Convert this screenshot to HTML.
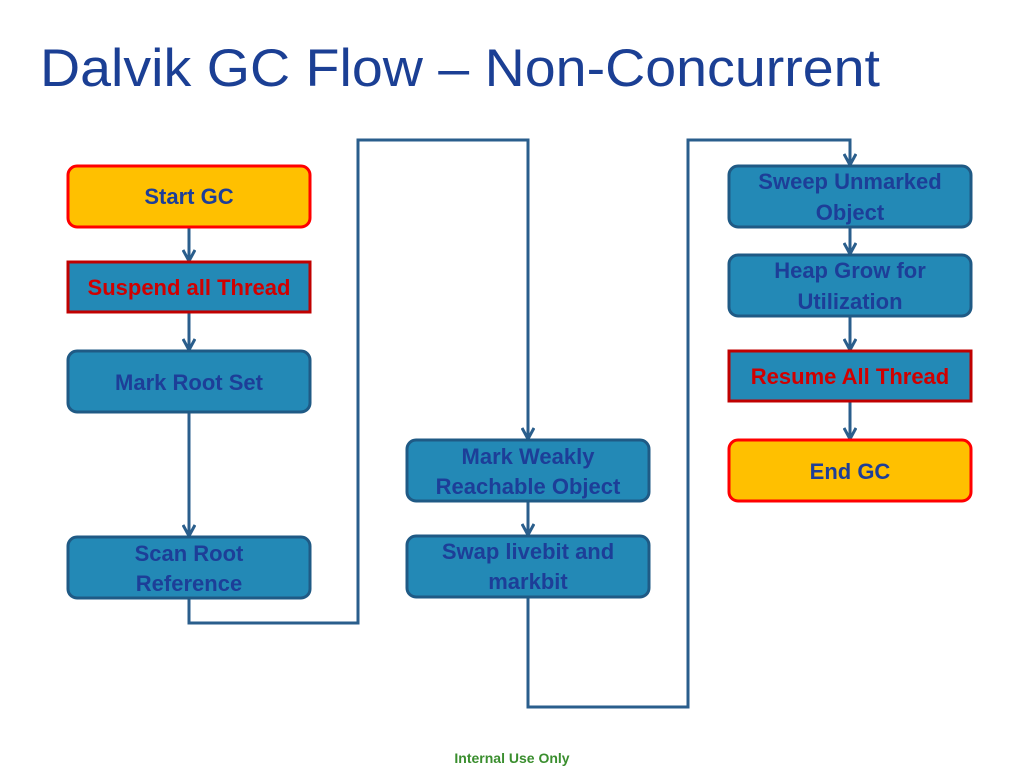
<!DOCTYPE html>
<html><head><meta charset="utf-8"><style>
html,body{margin:0;padding:0;background:#fff;}
svg{display:block}
text{font-family:"Liberation Sans",sans-serif;}
</style></head><body>
<svg width="1024" height="768" viewBox="0 0 1024 768" xmlns="http://www.w3.org/2000/svg">
<defs>
<marker id="a" viewBox="0 0 14 14" refX="12" refY="7" markerWidth="14" markerHeight="14" markerUnits="userSpaceOnUse" orient="auto">
<path d="M1,1 L12,7 L1,13" fill="none" stroke="#2A5E8C" stroke-width="3"/>
</marker>
</defs>
<text x="40" y="86" font-size="53" fill="#1B3F94" textLength="840" lengthAdjust="spacingAndGlyphs">Dalvik GC Flow – Non-Concurrent</text>

<g fill="none" stroke="#2A5E8C" stroke-width="3">
<path d="M189,227 V261" marker-end="url(#a)"/>
<path d="M189,312 V350" marker-end="url(#a)"/>
<path d="M189,412 V536" marker-end="url(#a)"/>
<path d="M189,598 V623 H358 V140 H528 V439" marker-end="url(#a)"/>
<path d="M528,501 V535" marker-end="url(#a)"/>
<path d="M528,597 V707 H688 V140 H850 V165" marker-end="url(#a)"/>
<path d="M850,227 V254" marker-end="url(#a)"/>
<path d="M850,316 V350" marker-end="url(#a)"/>
<path d="M850,401 V439" marker-end="url(#a)"/>
</g>

<g stroke-width="3">
<rect x="68" y="166" width="242" height="61" rx="9" fill="#FFC000" stroke="#FF0000"/>
<rect x="68" y="262" width="242" height="50" fill="#2389B6" stroke="#C00000"/>
<rect x="68" y="351" width="242" height="61" rx="9" fill="#2389B6" stroke="#1F5A85"/>
<rect x="68" y="537" width="242" height="61" rx="9" fill="#2389B6" stroke="#1F5A85"/>
<rect x="407" y="440" width="242" height="61" rx="9" fill="#2389B6" stroke="#1F5A85"/>
<rect x="407" y="536" width="242" height="61" rx="9" fill="#2389B6" stroke="#1F5A85"/>
<rect x="729" y="166" width="242" height="61" rx="9" fill="#2389B6" stroke="#1F5A85"/>
<rect x="729" y="255" width="242" height="61" rx="9" fill="#2389B6" stroke="#1F5A85"/>
<rect x="729" y="351" width="242" height="50" fill="#2389B6" stroke="#C00000"/>
<rect x="729" y="440" width="242" height="61" rx="9" fill="#FFC000" stroke="#FF0000"/>
</g>

<g font-size="22" font-weight="bold" fill="#1D3E98" text-anchor="middle">
<text x="189" y="204">Start GC</text>
<text x="189" y="295" fill="#D00000">Suspend all Thread</text>
<text x="189" y="390">Mark Root Set</text>
<text x="189" y="561">Scan Root</text>
<text x="189" y="591">Reference</text>
<text x="528" y="464">Mark Weakly</text>
<text x="528" y="494">Reachable Object</text>
<text x="528" y="559">Swap livebit and</text>
<text x="528" y="589">markbit</text>
<text x="850" y="189">Sweep Unmarked</text>
<text x="850" y="220">Object</text>
<text x="850" y="278">Heap Grow for</text>
<text x="850" y="309">Utilization</text>
<text x="850" y="384" fill="#D00000">Resume All Thread</text>
<text x="850" y="479">End GC</text>
</g>

<text x="512" y="763" font-size="14" font-weight="bold" fill="#3A8E2E" text-anchor="middle">Internal Use Only</text>
</svg>
</body></html>
